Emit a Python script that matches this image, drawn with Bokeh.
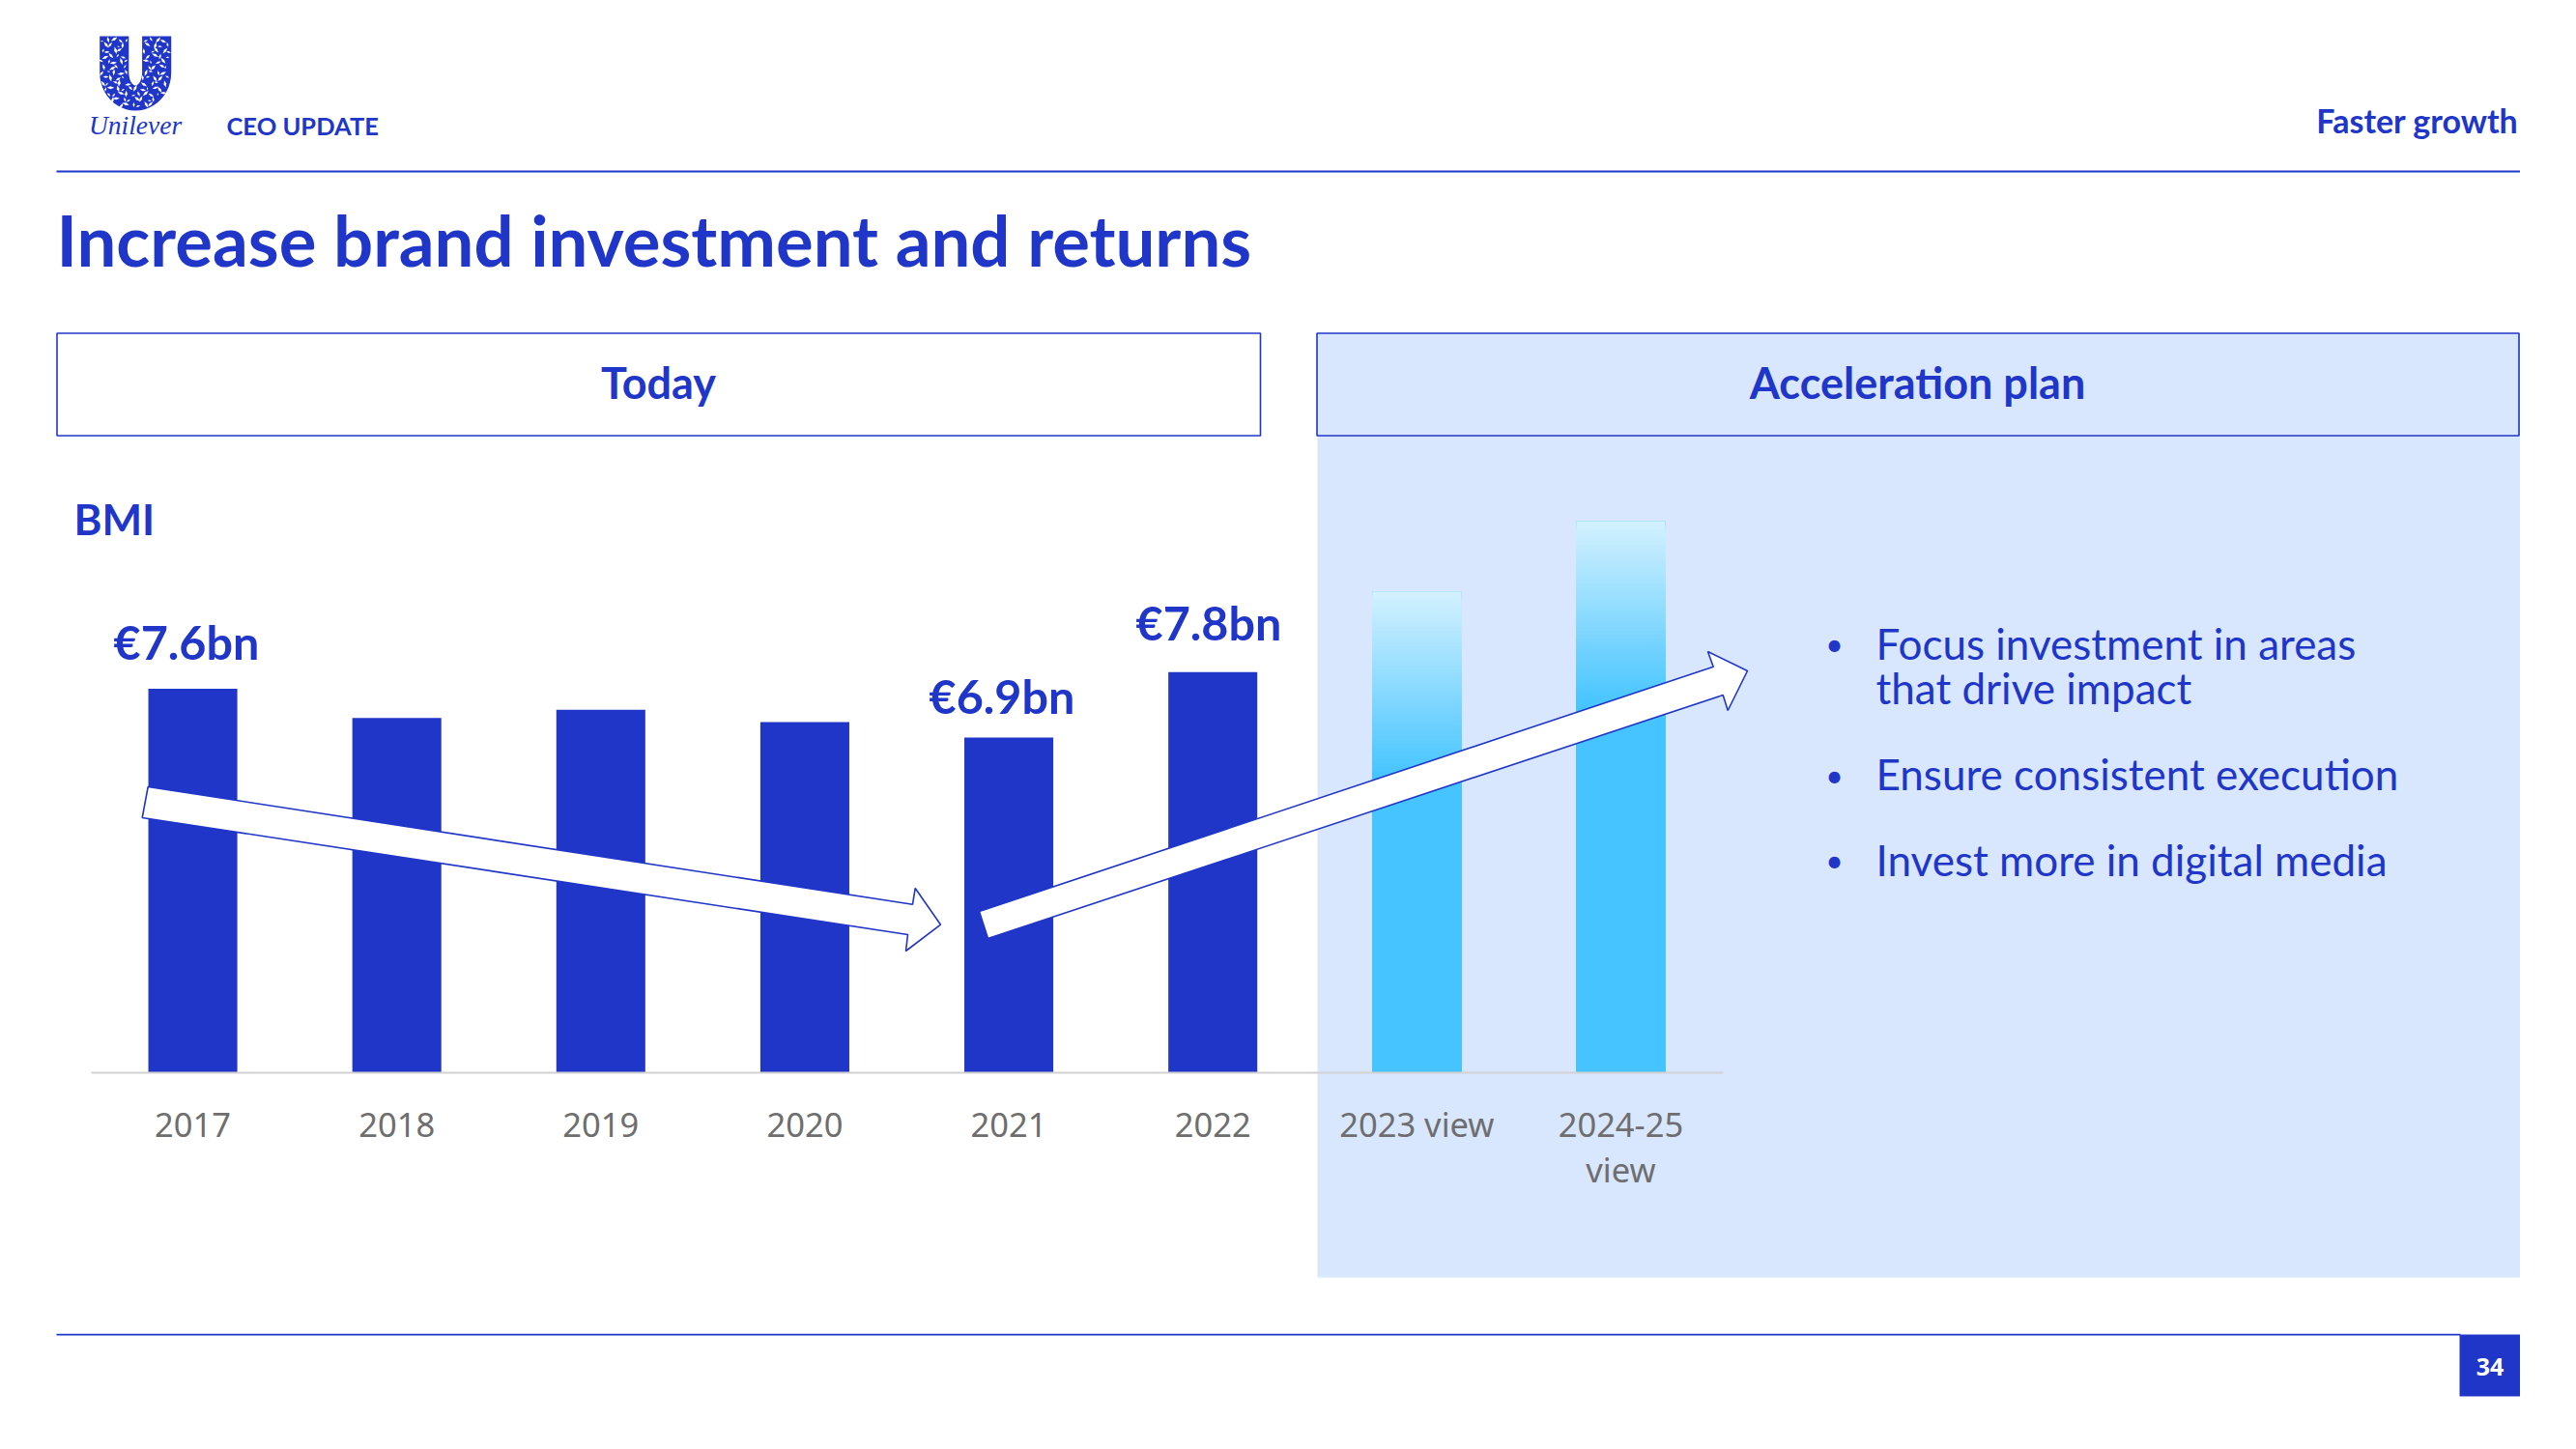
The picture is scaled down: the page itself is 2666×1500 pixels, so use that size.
import math
from bokeh.plotting import figure
from bokeh.embed import file_html
from bokeh.resources import INLINE
from bokeh.models import Range1d, BoxAnnotation, PolyAnnotation, Label, LinearAxis, FixedTicker

# ---- data -------------------------------------------------------------
categories = ["2017", "2018", "2019", "2020", "2021", "2022", "2023 view", "2024-25\nview"]
bmi_bn = [7.6, 7.18, 7.30, 7.12, 6.9, 7.84, 9.0, 10.01]
value_labels = ["€7.6bn", "€6.9bn", "€7.8bn"]
header_left = "CEO UPDATE"
header_right = "Faster growth"
title_text = "Increase brand investment and returns"
bullets = ["Focus investment in areas", "that drive impact", "Ensure consistent execution", "Invest more in digital media"]

BLUE = "#2036C8"
PANEL = "#D8E7FD"
SKY = "#45C4FF"
SKY_TOP = "#D2F1FF"
GREY = "#6E6E6E"
BASE = 2.08   # value at the foot of the truncated bars

# The frame is the whole slide, in page pixels; the chart has its own pair of
# ranges: one unit per category along x, EUR bn along y.
W, H = 2666, 1500
UNIT_X = 211.125
UNIT_Y = 72.0
p = figure(
    width=W, height=H,
    x_range=Range1d(0, W), y_range=Range1d(H, 0),
    x_axis_location=None, y_axis_location=None,
    min_border=0, output_backend="svg", toolbar_location=None,
    outline_line_color=None, background_fill_color="white", border_fill_color="white",
)
p.extra_x_ranges["cat"] = Range1d(-93.5 / UNIT_X, (W - 93.5) / UNIT_X)
p.extra_y_ranges["bn"] = Range1d(BASE - (H - 1110) / UNIT_Y, BASE + 1110 / UNIT_Y)
p.grid.visible = False
CH = dict(x_range_name="cat", y_range_name="bn")
centres = [i + 0.5 for i in range(len(categories))]

ax = LinearAxis(
    fixed_location=BASE,
    ticker=FixedTicker(ticks=centres),
    major_label_overrides={c: n for c, n in zip(centres, categories)},
    bounds=(0, len(categories)),
    axis_line_color="#D2D2D2", axis_line_width=2,
    major_tick_line_color=None, minor_tick_line_color=None,
    major_label_text_font="Noto Sans", major_label_text_font_size="34.5px",
    major_label_text_color=GREY, major_label_standoff=23,
    major_label_text_line_height=1.0,
    **CH,
)
p.add_layout(ax, "below")


def box(l, r, t, b, fill=None, line=None, lw=2, level="annotation"):
    p.add_layout(BoxAnnotation(left=l, right=r, top=t, bottom=b, fill_color=fill, fill_alpha=1 if fill else 0,
                               line_color=line, line_width=lw, line_alpha=1 if line else 0, level=level))


def poly(xs, ys, fill, line=None, lw=2, level="annotation"):
    p.add_layout(PolyAnnotation(xs=xs, ys=ys, fill_color=fill, fill_alpha=1, line_color=line, line_width=lw,
                                line_alpha=1 if line else 0, level=level))


def text(t, x, y, size, bold=False, color=BLUE, align="left", font="Lato", italic=False):
    # y is the wanted baseline; Label's alphabetic anchor sits lower than the glyph baseline
    style = "bold" if bold else ("italic" if italic else "normal")
    p.add_layout(Label(x=x, y=y - 0.36 * size, text=t, text_font=font, text_font_size=f"{size}px",
                       text_font_style=style, text_color=color, text_align=align, text_baseline="alphabetic"))


# panel behind the chart
box(1363, 2607.5, 345, 1322, fill=PANEL, level="underlay")

# bars
p.vbar(x=centres[:6], top=bmi_bn[:6], bottom=BASE, width=0.436, color=BLUE, line_color=None, **CH)
p.vbar(x=centres[6:], top=bmi_bn[6:], bottom=BASE, width=0.436, color=SKY, line_color=None, **CH)


# gradient on the view bars: each band reaches down to the base, painted top to bottom
def mix(t):
    a = [int(SKY_TOP[i:i + 2], 16) for i in (1, 3, 5)]
    b = [int(SKY[i:i + 2], 16) for i in (1, 3, 5)]
    return "#%02x%02x%02x" % tuple(round(a[k] + (b[k] - a[k]) * t) for k in range(3))


SPAN = 2.7
STEPS = 48
for cx_, val in zip(centres[6:], bmi_bn[6:]):
    xs, tops, cols = [], [], []
    for i in range(STEPS):
        xs.append(cx_)
        tops.append(val - SPAN * i / STEPS)
        cols.append(mix(i / (STEPS - 1)))
    p.vbar(x=xs, top=tops, bottom=BASE, width=0.436, color=cols, line_color=None, **CH)

# header and footer rules
box(58, 2607.5, 176, 178, fill=BLUE)
box(58, 2546, 1380.3, 1382, fill=BLUE)
box(2545, 2607.5, 1381, 1445, fill=BLUE)
text("34", 2576.5, 1423, 25, bold=True, color="white", align="center", font="Noto Sans")

# section heads
box(58.5, 1304, 344.5, 450.5, line=BLUE, lw=1.6)
box(1362.5, 2606.5, 344.5, 450.5, fill=PANEL, line=BLUE, lw=1.6)
text("Today", 681, 412, 45, bold=True, align="center")
text("Acceleration plan", 1984, 412, 45, bold=True, align="center")

# texts
text(title_text, 58, 273, 72.5, bold=True)
text(header_left, 234, 139, 25.5, bold=True)
text(header_right, 2606, 136.5, 34, bold=True, align="right")
text("BMI", 76, 552, 44, bold=True)
text(value_labels[0], 117, 681, 48.5, bold=True)
text(value_labels[1], 961, 737, 48.5, bold=True)
text(value_labels[2], 1175, 661, 48.5, bold=True)

text(bullets[0], 1941, 681, 44)
text(bullets[1], 1941, 727, 44)
text(bullets[2], 1941, 816, 44)
text(bullets[3], 1941, 905, 44)
for by in (666, 802, 890):
    p.add_layout(Label(x=1898, y=by, text="•", text_font="Lato", text_font_size="32px", text_color=BLUE,
                       text_align="center", text_baseline="middle"))

# arrows
poly([152.7, 146.7, 939, 937, 973, 946.7, 944], [814, 846, 967, 984, 956.7, 919, 935.7], "white", BLUE, 1.6)
poly([1013, 1022, 1782.7, 1787.7, 1808, 1767, 1772.7], [943, 971, 719, 735, 694, 674, 689.7], "white", BLUE, 1.6)

# logo: a U with an irregular pattern of small white cut-outs
cx, arm_out, arm_in = 139.7, 37, 6.9
outer = [(cx - arm_out, 37)]
for i in range(25):
    a = math.pi - math.pi * i / 24
    outer.append((cx + arm_out * math.cos(a), 75 + 39 * math.sin(a)))
outer.append((cx + arm_out, 37))
outer.append((cx + arm_in, 37))
for i in range(13):
    a = math.pi * i / 12
    outer.append((cx + arm_in * math.cos(a), 74 + 14 * math.sin(a)))
outer.append((cx - arm_in, 37))
poly([q[0] for q in outer], [q[1] for q in outer], BLUE)
row = 0
yy = 41.0
while yy < 113:
    xx = 105.0 + (3.2 if row % 2 else 0)
    col = 0
    while xx < 176:
        jx = xx + 1.4 * math.sin(col * 3.1 + row)
        jy = yy + 1.2 * math.cos(col * 1.9 + row * 2.2)
        dx, dy = jx - cx, jy - 75
        ins_outer = abs(dx) < 36 and (jy < 75 or (dx / 36) ** 2 + (dy / 38) ** 2 < 1)
        ins_inner = abs(dx) < 8 and (jy < 74 or (dx / 8) ** 2 + ((jy - 74) / 15) ** 2 < 1)
        if ins_outer and not ins_inner:
            r = 1.1 + 1.5 * abs(math.sin(row * 1.7 + col * 2.3))
            ang = row * 0.9 + col * 1.3
            ca, sa = math.cos(ang), math.sin(ang)
            pts = [(r * 1.5, 0), (0, -r * 0.55), (-r * 1.5, 0), (0, r * 0.55)]
            poly([jx + u * ca - v * sa for u, v in pts], [jy + u * sa + v * ca for u, v in pts], "white")
        xx += 6.4
        col += 1
    yy += 5.6
    row += 1
text("Unilever", 139.5, 139, 27.5, italic=True, align="center", font="Liberation Serif")

open("out.html", "w").write(file_html(p, INLINE))
